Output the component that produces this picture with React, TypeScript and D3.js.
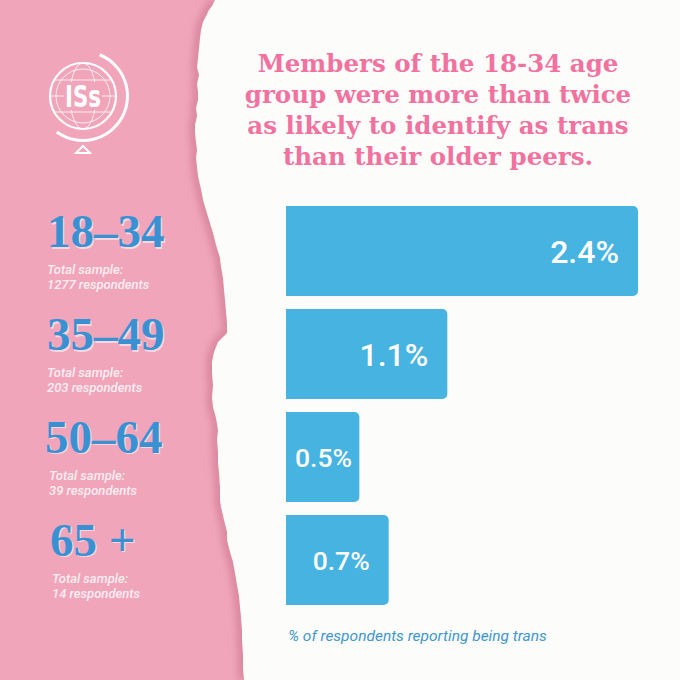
import React, { useRef, useEffect } from "react"
import * as d3 from "d3"

// chart data
const ageGroups = ["18–34", "35–49", "50–64", "65 +"]
const sampleSizes = [1277, 203, 39, 14]
const transShare = [2.4, 1.1, 0.5, 0.7]
const titleLines = [
	"Members of the 18-34 age",
	"group were more than twice",
	"as likely to identify as trans",
	"than their older peers.",
]
const caption = "% of respondents reporting being trans"

// torn paper edge, hand traced
const tornEdge: [number, number][] = [
	[215, 0], [212, 6], [209, 10], [206, 16], [203, 22], [201, 30], [200, 38], [199, 48],
	[198, 58], [197, 67], [199, 75], [197, 84], [198, 92], [198, 100], [196, 108], [197, 116],
	[195, 125], [195, 133], [196, 142], [197, 150], [196, 158], [197, 167], [198, 176],
	[200, 185], [202, 194], [203, 200], [206, 210], [209, 220], [213, 233], [216, 245],
	[220, 258], [221, 267], [223, 278], [224, 290], [225, 300], [226, 312], [227, 323],
	[227, 333], [222, 338], [218, 342], [214, 352], [212, 362], [212, 373], [213, 385],
	[212, 398], [213, 407], [216, 418], [218, 430], [217, 440], [218, 452], [218, 463],
	[219, 473], [220, 488], [220, 500], [221, 507], [224, 520], [227, 532], [227, 540],
	[230, 552], [233, 562], [235, 573], [237, 585], [239, 596], [240, 607], [241, 618],
	[242, 630], [242, 640], [243, 655], [243, 668], [244, 680],
]

const W = 680
const H = 680
const PINK = "#f0a5bb"
const BLUE = "#47b3e1"
const labelNudge = [47, 47, 45, 50]
const subNudge = [47, 47, 49, 52]

const App: React.FunctionComponent = () => {
	const svgRef = useRef<SVGSVGElement>(null)

	useEffect(() => {
		const svg = d3.select(svgRef.current).attr("width", W).attr("height", H)
		svg.selectAll("*").remove()

		const defs = svg.append("defs")
		defs.append("filter").attr("id", "soft")
			.attr("x", "-50%").attr("width", "200%")
			.append("feGaussianBlur").attr("stdDeviation", 3)

		// backgrounds
		svg.append("rect").attr("width", W).attr("height", H).attr("fill", PINK)
		const edgeLine = d3.line<[number, number]>().curve(d3.curveLinear)
		svg.append("path")
			.attr("d", edgeLine(tornEdge))
			.attr("fill", "none")
			.attr("stroke", "#dc8aa1")
			.attr("stroke-width", 12)
			.attr("filter", "url(#soft)")
		svg.append("path")
			.attr("d", edgeLine([...tornEdge, [W, H], [W, 0]]) + "Z")
			.attr("fill", "#fcfcfb")

		// logo
		const logo = svg.append("g").attr("transform", "translate(83,96)")
			.attr("fill", "none").attr("stroke", "#fff")
		logo.append("circle").attr("r", 33).attr("stroke-width", 2.2)
		logo.append("circle").attr("r", 27).attr("stroke-width", 0.8)
		logo.append("ellipse").attr("rx", 13).attr("ry", 33).attr("stroke-width", 0.8)
		logo.append("line").attr("x1", -33).attr("x2", 33).attr("stroke-width", 0.8)
		;[-16, 16].forEach((y) =>
			logo.append("line")
				.attr("x1", -Math.sqrt(33 * 33 - y * y)).attr("x2", Math.sqrt(33 * 33 - y * y))
				.attr("y1", y).attr("y2", y).attr("stroke-width", 0.8)
		)
		const ring = d3.arc()({
			innerRadius: 43, outerRadius: 46,
			startAngle: (22 * Math.PI) / 180, endAngle: (216 * Math.PI) / 180,
		})
		logo.append("path").attr("d", ring).attr("fill", "#fff").attr("stroke", "none")
		logo.append("path").attr("d", "M0,50 L7,57 L-7,57 Z").attr("stroke-width", 2)
		logo.append("rect").attr("x", -19).attr("y", -14).attr("width", 38).attr("height", 28)
			.attr("fill", PINK).attr("stroke", "none")
		logo.append("text").text("ISs")
			.attr("text-anchor", "middle").attr("y", 11)
			.attr("font-family", "'DejaVu Sans Condensed', 'Liberation Sans Narrow', sans-serif")
			.attr("font-weight", 700).attr("font-size", 30)
			.attr("textLength", 36).attr("lengthAdjust", "spacingAndGlyphs")
			.attr("fill", "#fff").attr("stroke", "none")

		// title
		svg.append("g").selectAll("text").data(titleLines).join("text")
			.text((d) => d)
			.attr("x", 438)
			.attr("y", (d, i) => 72 + i * 31)
			.attr("text-anchor", "middle")
			.attr("font-family", "'DejaVu Serif', serif")
			.attr("font-weight", 700)
			.attr("font-size", 24.5)
			.attr("fill", "#f1729f")

		// scales
		const x = d3.scaleLinear().domain([0, d3.max(transShare) || 1]).range([286, 638])
		const y = d3.scaleBand<string>().domain(ageGroups).range([206, 605]).paddingInner(0.126)
		const bh = y.bandwidth()
		const r = 5

		const barPath = (v: number, g: string) => {
			const x0 = x(0), x1 = x(v), y0 = y(g) || 0, y1 = y0 + bh
			const p = d3.path()
			p.moveTo(x0, y0)
			p.lineTo(x1 - r, y0)
			p.arcTo(x1, y0, x1, y0 + r, r)
			p.lineTo(x1, y1 - r)
			p.arcTo(x1, y1, x1 - r, y1, r)
			p.lineTo(x0, y1)
			p.closePath()
			return p.toString()
		}

		const rows = svg.append("g").selectAll("g").data(ageGroups).join("g")

		rows.append("path")
			.attr("d", (g, i) => barPath(transShare[i], g))
			.attr("fill", BLUE)

		const valueSize = (v: number) => (x(v) - x(0) > 120 ? 32 : 26.5)
		rows.append("text")
			.text((g, i) => transShare[i].toFixed(1) + "%")
			.attr("font-family", "Roboto, sans-serif")
			.attr("font-weight", 500)
			.attr("font-size", (g, i) => valueSize(transShare[i]))
			.attr("fill", "#fff")
			.attr("text-anchor", "end")
			.attr("y", (g, i) => (y(g) || 0) + bh / 2 + valueSize(transShare[i]) * 0.36)
			.attr("x", function (g, i) {
				const w = (this as SVGTextElement).getComputedTextLength()
				return Math.max(x(transShare[i]) - 19, x(0) + 9 + w)
			})

		// age labels on the pink side
		rows.append("text")
			.text((g) => g)
			.attr("x", (g, i) => labelNudge[i] + 1.5)
			.attr("y", (g) => (y(g) || 0) + bh / 2 - 4 + 1.5)
			.attr("font-family", "'Liberation Serif', serif")
			.attr("font-weight", 700)
			.attr("font-size", 47)
			.attr("fill", "#f8d6e0")
		rows.append("text")
			.text((g) => g)
			.attr("x", (g, i) => labelNudge[i])
			.attr("y", (g) => (y(g) || 0) + bh / 2 - 4)
			.attr("font-family", "'Liberation Serif', serif")
			.attr("font-weight", 700)
			.attr("font-size", 47)
			.attr("fill", "#3a91d2")

		const sub = rows.append("text")
			.attr("font-family", "Roboto, sans-serif")
			.attr("font-style", "italic")
			.attr("font-weight", 500)
			.attr("font-size", 13)
			.attr("fill", "#fdeef2")
		sub.append("tspan")
			.text("Total sample:")
			.attr("x", (g, i) => subNudge[i])
			.attr("y", (g) => (y(g) || 0) + bh / 2 + 23)
		sub.append("tspan")
			.text((g, i) => `${sampleSizes[i]} respondents`)
			.attr("x", (g, i) => subNudge[i])
			.attr("y", (g) => (y(g) || 0) + bh / 2 + 38)

		svg.append("text")
			.text(caption)
			.attr("x", 288)
			.attr("y", 641)
			.attr("font-family", "Roboto, sans-serif")
			.attr("font-style", "italic")
			.attr("font-size", 15.5)
			.attr("fill", "#3f97cc")
	}, [])

	return (
		<div style={{ position: "absolute", left: 0, top: 0, width: W, height: H }}>
			<svg ref={svgRef} style={{ display: "block" }}></svg>
		</div>
	)
}

export default App
